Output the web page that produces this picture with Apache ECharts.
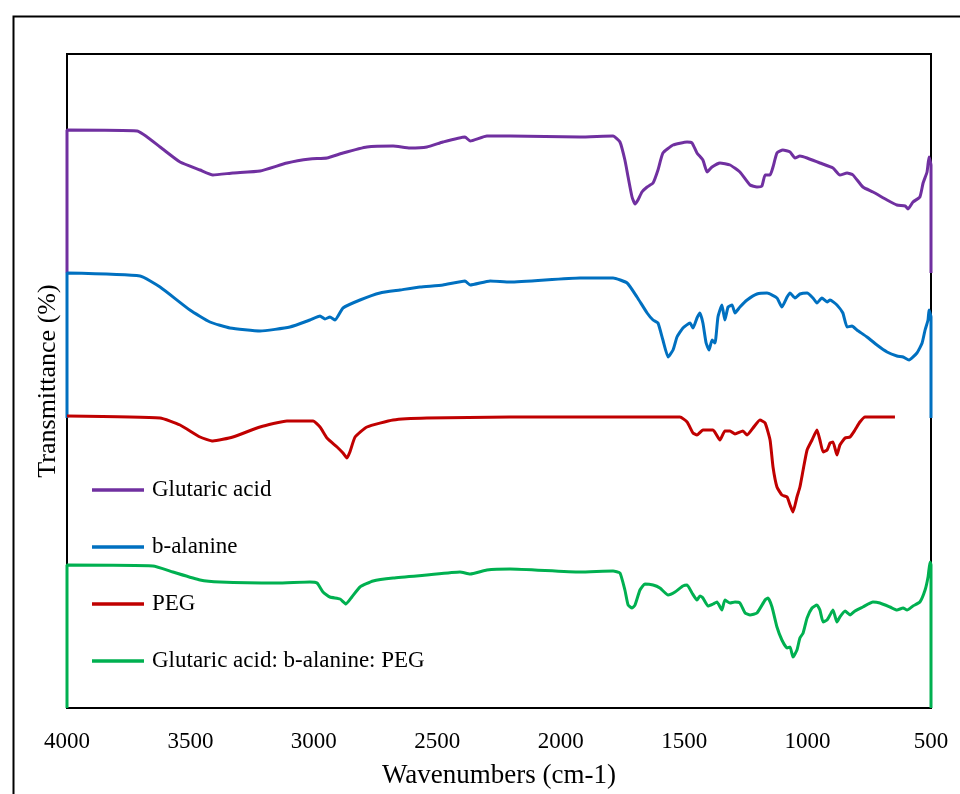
<!DOCTYPE html>
<html>
<head>
<meta charset="utf-8">
<script src="https://cdn.jsdelivr.net/npm/echarts@6/dist/echarts.min.js"></script>
<style>html,body{margin:0;padding:0;background:#fff}#c{width:960px;height:794px}</style>
</head>
<body>
<div id="c"></div>
<script>
// Wavenumber (cm-1), offset transmittance (arbitrary units)
const xTicks = [4000, 3500, 3000, 2500, 2000, 1500, 1000, 500];
const seriesNames = ['Glutaric acid', 'b-alanine', 'PEG', 'Glutaric acid: b-alanine: PEG'];
const seriesColors = ['#7030A0', '#0070C0', '#C00000', '#00B050'];

const glutaricAcid = [[4000,435],[4000,578],[3716,577],[3623,561],[3542,546],[3461,538],[3409,533],[3328,535],[3218,537],[3109,545],[3016,549],[2947,550],[2882,555],[2785,561],[2679,562],[2611,560],[2542,561],[2477,566],[2388,571],[2367,567],[2299,572],[2205,572],[1922,571],[1788,572],[1760,566],[1740,548],[1727,531],[1711,511],[1699,504],[1687,508],[1671,516],[1650,521],[1626,525],[1606,538],[1586,555],[1545,563],[1488,566],[1468,565],[1448,555],[1424,548],[1407,536],[1387,541],[1355,545],[1314,543],[1274,536],[1233,523],[1205,521],[1185,522],[1172,533],[1152,533],[1140,541],[1124,555],[1100,558],[1071,556],[1051,550],[1031,552],[1002,550],[950,545],[897,540],[869,533],[840,535],[816,533],[776,521],[735,516],[678,508],[638,503],[605,502],[593,499],[573,506],[545,511],[532,525],[516,536],[508,551],[500,543],[500,435]];

const bAlanine = [[4000,290],[4000,435],[3704,432],[3623,421],[3502,398],[3421,386],[3340,380],[3218,377],[3097,381],[3016,388],[2975,392],[2955,389],[2935,391],[2914,388],[2882,400],[2813,408],[2732,415],[2651,418],[2570,421],[2477,423],[2388,427],[2367,423],[2286,427],[2205,426],[1922,430],[1788,430],[1731,425],[1691,411],[1650,395],[1626,388],[1606,385],[1586,368],[1565,351],[1545,358],[1529,371],[1505,380],[1476,385],[1464,380],[1448,390],[1436,395],[1424,385],[1411,365],[1399,358],[1387,368],[1375,365],[1363,391],[1347,403],[1335,388],[1322,401],[1306,403],[1294,395],[1274,401],[1245,408],[1205,414],[1164,415],[1124,410],[1104,401],[1083,411],[1071,415],[1051,410],[1031,414],[1002,415],[978,410],[962,405],[942,410],[921,406],[909,408],[881,403],[857,395],[840,381],[820,382],[800,378],[759,371],[719,363],[678,356],[638,352],[613,351],[589,348],[557,355],[536,365],[524,378],[512,388],[508,398],[500,391],[500,290]];

const peg = [[4000,292],[3623,290],[3542,283],[3461,271],[3409,267],[3328,271],[3218,281],[3109,287],[3003,287],[2975,281],[2947,270],[2906,261],[2882,255],[2866,250],[2854,256],[2833,271],[2785,281],[2679,288],[2542,290],[2205,291],[1841,291],[1517,291],[1488,286],[1464,275],[1448,273],[1424,278],[1383,278],[1355,268],[1335,277],[1314,277],[1294,274],[1262,277],[1245,273],[1221,280],[1193,288],[1172,285],[1152,268],[1140,241],[1124,221],[1104,213],[1083,211],[1071,203],[1059,196],[1043,211],[1031,221],[1018,238],[1002,258],[982,268],[962,278],[950,268],[937,256],[921,258],[909,265],[897,266],[881,253],[869,263],[848,270],[828,271],[808,278],[788,286],[767,291],[646,291]];

const mixture = [[4000,0],[4000,143],[3652,142],[3571,136],[3461,128],[3380,126],[3149,125],[3016,126],[2987,125],[2963,116],[2935,111],[2894,109],[2870,104],[2846,111],[2813,121],[2760,127],[2679,130],[2542,133],[2408,136],[2367,134],[2299,138],[2205,139],[1922,136],[1788,137],[1760,135],[1740,118],[1727,103],[1711,100],[1699,103],[1679,118],[1659,124],[1626,123],[1598,120],[1565,113],[1537,116],[1505,122],[1488,123],[1468,115],[1448,108],[1436,112],[1424,110],[1403,102],[1383,104],[1367,106],[1347,98],[1335,108],[1314,105],[1294,106],[1274,105],[1253,95],[1233,93],[1205,95],[1172,108],[1160,110],[1144,101],[1124,81],[1104,68],[1083,60],[1071,61],[1059,51],[1043,58],[1031,70],[1018,75],[1002,90],[982,100],[962,103],[950,98],[937,86],[921,88],[909,93],[897,98],[881,86],[869,91],[848,97],[828,93],[808,97],[776,101],[735,106],[707,105],[666,101],[638,98],[613,100],[597,98],[573,102],[545,106],[524,118],[512,131],[504,146],[500,143],[500,0]];

const allData = [glutaricAcid, bAlanine, peg, mixture];

const chart = echarts.init(document.getElementById('c'), null, {renderer: 'canvas'});
const serif = "'Liberation Serif', 'Times New Roman', serif";
const narrow = "'Liberation Sans Narrow', 'Arial Narrow', 'Liberation Serif', serif";
chart.setOption({
  animation: false,
  backgroundColor: '#fff',
  grid: {left: 67, right: 29, top: 54, bottom: 86, show: true, borderColor: '#000', borderWidth: 2, containLabel: false},
  legend: {
    orient: 'vertical', left: 87, top: 473, itemWidth: 52, itemHeight: 14, itemGap: 33,
    icon: 'path://M0,5.5 L52,5.5 L52,9 L0,9 Z',
    data: seriesNames,
    textStyle: {fontFamily: serif, fontSize: 23, color: '#000', lineHeight: 24, padding: [0, 0, 0, 3]}
  },
  xAxis: {
    type: 'value', min: 500, max: 4000, interval: 500, inverse: true,
    name: 'Wavenumbers (cm-1)', nameLocation: 'middle', nameGap: 54,
    nameTextStyle: {fontFamily: serif, fontSize: 27, color: '#000'},
    axisLine: {show: true, lineStyle: {color: '#000', width: 2}},
    axisTick: {show: false},
    splitLine: {show: false},
    axisLabel: {fontFamily: narrow, fontSize: 23, color: '#000', margin: 22, formatter: v => String(v)}
  },
  yAxis: {
    type: 'value', min: 0, max: 654,
    name: 'Transmittance (%)', nameLocation: 'middle', nameGap: 6,
    nameTextStyle: {fontFamily: serif, fontSize: 26, color: '#000'},
    axisLine: {show: true, lineStyle: {color: '#000', width: 2}},
    axisTick: {show: false}, axisLabel: {show: false}, splitLine: {show: false}
  },
  graphic: [{
    type: 'rect', left: 11, top: 14, z: -1,
    shape: {width: 1000, height: 1000},
    style: {fill: 'none', stroke: '#000', lineWidth: 2}
  }],
  series: allData.map((d, i) => ({
    name: seriesNames[i], type: 'line', data: d, symbol: 'none', clip: false,
    smooth: 0.15,
    lineStyle: {color: seriesColors[i], width: 3},
    itemStyle: {color: seriesColors[i]}
  }))
});
</script>
</body>
</html>
